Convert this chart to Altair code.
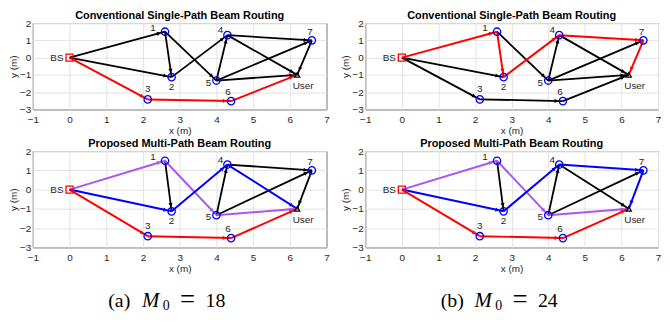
import math
import altair as alt
import pandas as pd

# ---------------- data ----------------
NODE_NAMES = ["BS", "1", "2", "3", "4", "5", "6", "7", "User"]
NODE_X = [0.0, 2.6, 2.78, 2.13, 4.3, 4.0, 4.4, 6.6, 6.2]
NODE_Y = [0.0, 1.5, -1.13, -2.42, 1.3, -1.33, -2.52, 1.0, -1.0]

EDGE_FROM = ["BS", "BS", "BS", "1", "1", "2", "3", "5", "4", "4", "5", "5", "6", "7"]
EDGE_TO = ["1", "2", "3", "2", "5", "4", "6", "4", "7", "User", "7", "User", "User", "User"]

# route membership of every edge ("-" = unused link)
ROUTES_CONV_A = ["-", "-", "R", "-", "-", "-", "R", "-", "-", "-", "-", "-", "R", "-"]
ROUTES_CONV_B = ["R", "-", "-", "R", "-", "R", "-", "-", "R", "-", "-", "-", "-", "R"]
ROUTES_PROP_A = ["P", "B", "R", "-", "P", "B", "R", "-", "-", "B", "-", "P", "R", "-"]
ROUTES_PROP_B = ["P", "B", "R", "-", "P", "B", "R", "-", "B", "-", "-", "P", "R", "B"]

X_TICKS = [-1, 0, 1, 2, 3, 4, 5, 6, 7]
Y_TICKS = [-3, -2, -1, 0, 1, 2]
TITLE_CONV = "Conventional Single-Path Beam Routing"
TITLE_PROP = "Proposed Multi-Path Beam Routing"
CAPTION_LABELS = ["(a)", "(b)"]
CAPTION_VALUES = ["18", "24"]

# ---------------- styles ----------------
ROUTE_COLORS = {"-": "#000000", "R": "#FF0000", "B": "#0000FF", "P": "#AA55F0"}
LABEL_OFFSETS = {
    "BS": (-6, 0, "right"),
    "1": (-12, -4, "center"),
    "2": (0, 10, "center"),
    "3": (0, -10, "center"),
    "4": (-7, -5, "center"),
    "5": (-8, 2, "center"),
    "6": (-3, -9, "center"),
    "7": (-2, -8, "center"),
    "User": (6, 11, "center"),
}
TXT = "#262626"
FONT = "Liberation Sans"

XS = alt.Scale(domain=[-1, 7], nice=False, zero=False)
YS = alt.Scale(domain=[-3, 2], nice=False, zero=False)
XAX = alt.Axis(values=X_TICKS, title="x (m)", format="d")
YAX = alt.Axis(values=Y_TICKS, title="y (m)", format="d")


def panel(title, routes, w, h):
    pos = dict(zip(NODE_NAMES, zip(NODE_X, NODE_Y)))
    rows = []
    sx, sy = w / 8.0, h / 5.0
    for f, t, r in zip(EDGE_FROM, EDGE_TO, routes):
        x1, y1 = pos[f]
        x2, y2 = pos[t]
        dxp, dyp = (x2 - x1) * sx, (y2 - y1) * sy
        L = math.hypot(dxp, dyp)
        back = 6.5 / L
        rows.append(dict(
            x1=x1, y1=y1, x2=x2, y2=y2, route=r,
            color=ROUTE_COLORS[r],
            ax=x2 - (x2 - x1) * back, ay=y2 - (y2 - y1) * back,
            ang=math.degrees(math.atan2(dxp, dyp)) % 360,
            order=0 if r == "-" else 1,
        ))
    edf = pd.DataFrame(rows).sort_values("order", kind="stable")
    ndf = pd.DataFrame({"name": NODE_NAMES, "x": NODE_X, "y": NODE_Y})

    be = alt.Chart(edf)
    X = lambda f: alt.X(f, type="quantitative", scale=XS, axis=XAX)
    Y = lambda f: alt.Y(f, type="quantitative", scale=YS, axis=YAX)

    black = be.transform_filter("datum.route == '-'").mark_rule(
        strokeWidth=1.8, color="#000000").encode(x=X("x1"), y=Y("y1"), x2="x2:Q", y2="y2:Q")
    colored = be.transform_filter("datum.route != '-'").mark_rule(
        strokeWidth=2.0).encode(x=X("x1"), y=Y("y1"), x2="x2:Q", y2="y2:Q",
                                color=alt.Color("color:N", scale=None))
    arrows = be.mark_point(shape="triangle-up", filled=True, size=18, opacity=1,
                           strokeWidth=0).encode(
        x=X("ax"), y=Y("ay"), angle=alt.Angle("ang:Q", scale=None),
        color=alt.Color("color:N", scale=None))

    bn = alt.Chart(ndf)
    circles = bn.transform_filter("datum.name != 'BS' && datum.name != 'User'").mark_point(
        shape="circle", size=55, color="#0000FF", strokeWidth=1.3, filled=False, opacity=1
    ).encode(x=X("x"), y=Y("y"))
    bs = bn.transform_filter("datum.name == 'BS'").mark_point(
        shape="square", size=50, color="#FF0000", strokeWidth=1.3, filled=False, opacity=1
    ).encode(x=X("x"), y=Y("y"))
    user = bn.transform_filter("datum.name == 'User'").mark_point(
        shape="triangle-up", size=28, color="#000000", strokeWidth=1.2, filled=False, opacity=1
    ).encode(x=X("x"), y=Y("y"))

    labels = []
    for n in NODE_NAMES:
        dx, dy, al = LABEL_OFFSETS[n]
        labels.append(bn.transform_filter(alt.datum.name == n).mark_text(
            dx=dx, dy=dy, align=al, baseline="middle", font=FONT, fontSize=10, color=TXT
        ).encode(x=X("x"), y=Y("y"), text="name:N"))

    return alt.layer(black, colored, arrows, circles, bs, user, *labels).properties(
        width=w, height=h,
        title=alt.TitleParams(title),
        view=alt.ViewBackground(stroke="#262626", strokeWidth=1),
    )


def caption(label, value, w):
    b = alt.Chart(pd.DataFrame({"k": [0]}))
    common = dict(font="Liberation Serif", fontSize=20, align="left",
                  baseline="alphabetic", color="#000000")
    parts = [
        b.mark_text(text=label, **common).encode(x=alt.value(76), y=alt.value(18)),
        b.mark_text(text="M", **{**common, "fontStyle": "italic", "fontSize": 21}).encode(
            x=alt.value(110), y=alt.value(18)),
        b.mark_text(text="0", **{**common, "fontSize": 14}).encode(x=alt.value(131), y=alt.value(21)),
        b.mark_text(text="=", **{**common, "fontSize": 27, "align": "center"}).encode(
            x=alt.value(156), y=alt.value(19)),
        b.mark_text(text=value, **common).encode(x=alt.value(174), y=alt.value(18)),
    ]
    return alt.layer(*parts).properties(width=w, height=22)


WL, WR, H1, H2 = 296, 295, 87, 97
chart = alt.concat(
    panel(TITLE_CONV, ROUTES_CONV_A, WL, H1),
    panel(TITLE_CONV, ROUTES_CONV_B, WR, H1),
    panel(TITLE_PROP, ROUTES_PROP_A, WL, H2),
    panel(TITLE_PROP, ROUTES_PROP_B, WR, H2),
    caption(CAPTION_LABELS[0], CAPTION_VALUES[0], WL),
    caption(CAPTION_LABELS[1], CAPTION_VALUES[1], WR),
    columns=2,
    spacing={"row": 42, "column": 39},
    bounds="flush",
).properties(padding=0, background="white").configure_view(
    stroke="transparent"
).configure_axis(
    labelFont=FONT, labelFontSize=10, labelColor=TXT,
    titleFont=FONT, titleFontSize=10, titleFontWeight="normal", titleColor=TXT,
    gridColor="#e3e3e3", gridWidth=1, domain=False, ticks=False,
    labelFlush=False, labelOverlap=False,
).configure_axisX(labelPadding=5, titlePadding=1).configure_axisY(
    labelPadding=2, titlePadding=1
).configure_title(
    font=FONT, fontSize=11, fontWeight="bold", color="#000000",
    offset=-3, frame="group", anchor="middle"
)

chart.save("out.html", embed_options={"renderer": "svg", "actions": False})
